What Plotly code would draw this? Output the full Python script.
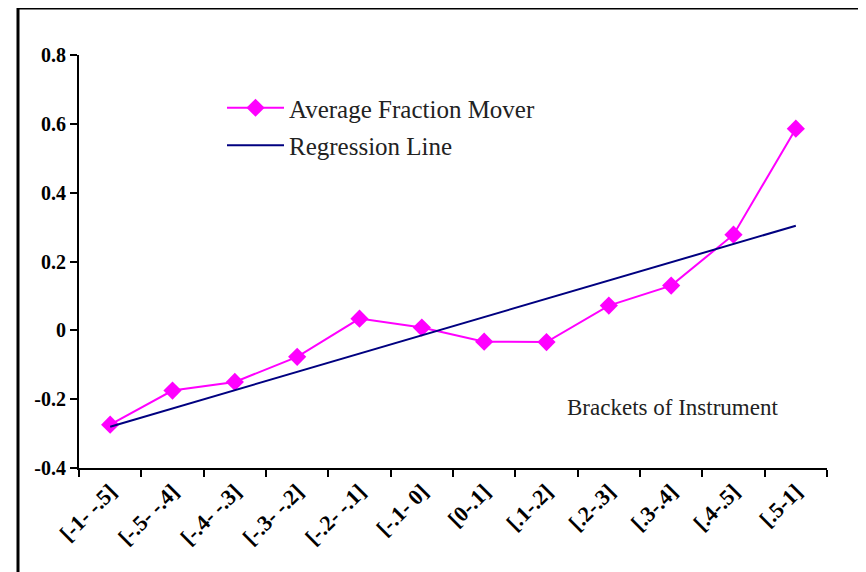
import plotly.graph_objects as go

categories = ["[-1- -.5]", "[-.5- -.4]", "[-.4- -.3]", "[-.3- -.2]", "[-.2- -.1]",
              "[-.1- 0]", "[0-.1]", "[.1-.2]", "[.2-.3]", "[.3-.4]", "[.4-.5]", "[.5-1]"]
avg_fraction_mover = [-0.274, -0.175, -0.150, -0.077, 0.034, 0.008,
                      -0.033, -0.034, 0.072, 0.130, 0.278, 0.586]
regression_x = ["[-1- -.5]", "[.5-1]"]
regression_y = [-0.280, 0.304]
y_ticks = [-0.4, -0.2, 0, 0.2, 0.4, 0.6, 0.8]
y_tick_labels = ["-0.4", "-0.2", "0", "0.2", "0.4", "0.6", "0.8"]

SERIF = "Liberation Serif"

fig = go.Figure()
fig.add_trace(go.Scatter(
    x=categories, y=avg_fraction_mover, mode="lines+markers",
    name="Average Fraction Mover", legendgroup="a",
    line=dict(color="#FF00FF", width=2),
    marker=dict(symbol="diamond", size=14, color="#FF00FF"),
))
fig.add_trace(go.Scatter(
    x=regression_x, y=regression_y, mode="lines",
    name="Regression Line", legendgroup="b",
    line=dict(color="#000080", width=2),
))

# page has an 8px body margin: work in page coordinates minus 8
OFF = 8
W, H = 866 - OFF, 572 - OFF
L, R, T, B = 79 - OFF, 866 - 827, 55 - OFF, 572 - 468
pw, ph = W - L - R, H - T - B

def px(x):
    return (x - OFF - L) / pw

def py(y):
    return (H - B - (y - OFF)) / ph

fig.add_shape(type="rect", xref="paper", yref="paper",
              x0=px(18), x1=px(864), y0=py(640), y1=py(8),
              line=dict(color="black", width=3), fillcolor="rgba(0,0,0,0)",
              layer="below")

fig.add_annotation(text="Brackets of Instrument", xref="paper", yref="paper",
                   x=px(672), y=py(407), xanchor="center", yanchor="middle",
                   showarrow=False,
                   font=dict(family=SERIF, size=23, color="#222"))

fig.update_layout(
    width=W, height=H,
    margin=dict(l=L, r=R, t=T, b=B, pad=0),
    paper_bgcolor="white", plot_bgcolor="white",
    showlegend=True,
    legend=dict(x=px(222), y=py(85), xanchor="left", yanchor="top",
                bgcolor="rgba(0,0,0,0)", tracegroupgap=2, itemwidth=57,
                font=dict(family=SERIF, size=25, color="#222")),
    xaxis=dict(type="category", categoryorder="array", categoryarray=categories,
               range=[-0.5, 11.5], automargin=False,
               showline=True, linecolor="black", linewidth=2,
               ticks="outside", tickson="boundaries", ticklen=7, tickwidth=2,
               tickcolor="black", tickangle=-45, showgrid=False, zeroline=False,
               tickvals=categories, ticktext=["<b>%s</b>" % c for c in categories],
               tickfont=dict(family=SERIF, size=22, color="black")),
    yaxis=dict(range=[-0.4, 0.8], automargin=False,
               tickvals=y_ticks, ticktext=["<b>%s</b>" % t for t in y_tick_labels],
               showline=True, linecolor="black", linewidth=2,
               ticks="outside", ticklen=7, tickwidth=2, tickcolor="black",
               showgrid=False, zeroline=False,
               tickfont=dict(family=SERIF, size=20, color="black")),
)

fig.write_html("out.html")
